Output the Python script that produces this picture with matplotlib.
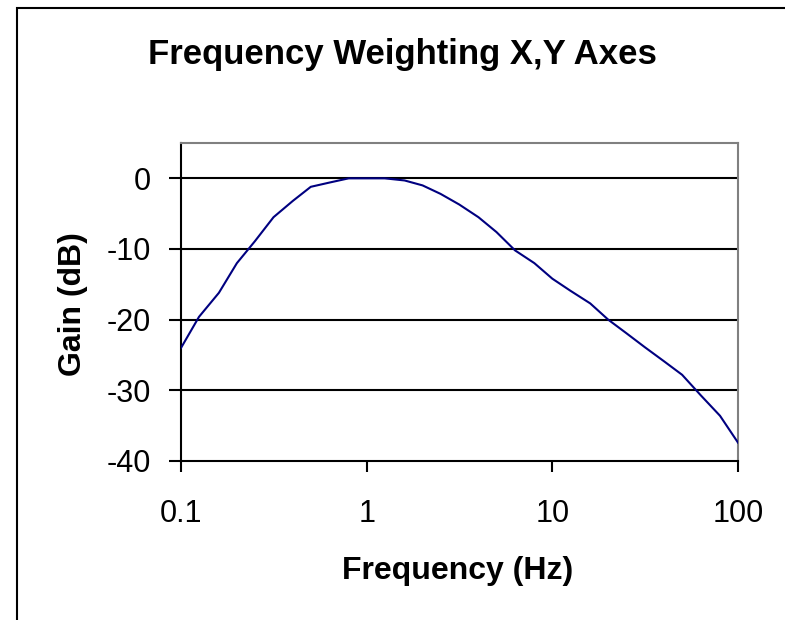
import numpy as np
import matplotlib
matplotlib.use('Agg')
import matplotlib.pyplot as plt
from matplotlib.patches import Rectangle

# datos (tercios de octava)
freq_hz = [0.1, 0.125, 0.16, 0.2, 0.25, 0.315, 0.4, 0.5, 0.63, 0.8,
           1, 1.25, 1.6, 2, 2.5, 3.15, 4, 5, 6.3, 8,
           10, 12.5, 16, 20, 25, 31.5, 40, 50, 63, 80, 100]
gain_db = [-24.0, -19.6, -16.2, -12.0, -8.9, -5.5, -3.2, -1.2, -0.6, 0.0,
           0.0, 0.0, -0.3, -1.0, -2.2, -3.7, -5.5, -7.6, -10.2, -12.0,
           -14.2, -15.9, -17.7, -20.0, -21.9, -23.9, -25.9, -27.8, -30.7, -33.6, -37.4]

x_ticks = [0.1, 1, 10, 100]
x_tick_labels = ['0.1', '1', '10', '100']
y_ticks = [-40, -30, -20, -10, 0]

plt.rcParams['font.family'] = ['Liberation Sans', 'DejaVu Sans']

fig = plt.figure(figsize=(7.85, 6.2), dpi=100)
ax = fig.add_axes([181/785, 1 - 461/620, (738 - 181)/785, (461 - 143)/620])

# marco exterior del grafico
fig.add_artist(Rectangle((17/785, -0.1), 1.2, 1 - 8/620 + 0.1, fill=False,
                         edgecolor='black', lw=1.5, transform=fig.transFigure,
                         clip_on=False))

for y in y_ticks[1:]:
    ax.axhline(y, color='black', lw=1.5, zorder=1)

ax.plot(freq_hz, gain_db, color='#000080', lw=1.5, zorder=3)

ax.set_xscale('log')
ax.set_xlim(0.1, 100)
ax.set_ylim(-40, 5)
ax.set_xticks(x_ticks)
ax.set_xticklabels(x_tick_labels)
ax.xaxis.set_minor_locator(matplotlib.ticker.NullLocator())
ax.set_yticks(y_ticks)
ax.set_yticklabels([str(v) for v in y_ticks])

ax.tick_params(axis='x', direction='out', length=8, width=1.5, pad=19, labelsize=22)
ax.tick_params(axis='y', direction='out', length=8.6, width=1.5, pad=13, labelsize=22)

ax.spines['left'].set_linewidth(1.5)
ax.spines['bottom'].set_linewidth(1.5)
ax.spines['top'].set_color('#808080')
ax.spines['right'].set_color('#808080')
ax.spines['top'].set_linewidth(1.5)
ax.spines['right'].set_linewidth(1.5)

fig.text(402/785, 1 - 64/620, 'Frequency Weighting X,Y Axes', ha='center',
         va='baseline', fontsize=25, fontweight='bold')
fig.text(458/785, 1 - 579/620, 'Frequency (Hz)', ha='center', va='baseline',
         fontsize=23, fontweight='bold')
fig.text(73/785, 1 - 304/620, 'Gain (dB)', ha='center', va='center',
         rotation=90, fontsize=23, fontweight='bold')

fig.savefig('out.png', dpi=100)
